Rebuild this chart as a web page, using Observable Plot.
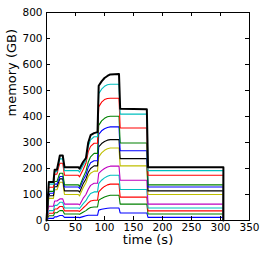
<!DOCTYPE html>
<html>
<head>
<meta charset="utf-8">
<script src="https://cdn.jsdelivr.net/npm/d3@7"></script>
<script src="https://cdn.jsdelivr.net/npm/@observablehq/plot@0.6"></script>
<style>
  html, body { margin: 0; padding: 0; background: #fff; }
  #chart svg { display: block; }
</style>
</head>
<body>
<div id="chart"></div>
<script>
const time = [0, 4, 12, 14, 18, 21, 23, 28, 31, 55, 57, 63, 68, 72, 76, 82, 88, 90, 95, 100, 105, 110, 125, 127, 173, 175, 305, 305];

const b1 = [0, 8, 8, 14, 14, 17, 19, 19, 12, 12, 11, 15, 18, 20, 20, 20, 20, 40, 43, 45, 47, 48, 48, 29, 29, 12, 12, 0];
const g1 = [0, 18, 18, 30, 30, 35, 38, 38, 25, 25, 24, 32, 38, 45, 50, 52, 52, 78, 85, 90, 94, 97, 97, 63, 63, 25, 25, 0];
const r1 = [0, 28, 28, 44, 44, 50, 54, 54, 37, 37, 35, 48, 58, 68, 75, 78, 78, 110, 122, 131, 137, 140, 140, 90, 90, 37, 37, 0];
const c1 = [0, 38, 38, 58, 58, 65, 70, 70, 48, 48, 46, 64, 76, 92, 104, 110, 110, 142, 155, 164, 170, 174, 174, 119, 119, 48, 48, 0];
const m1 = [0, 55, 55, 75, 75, 80, 83, 83, 63, 63, 60, 85, 100, 120, 135, 143, 143, 181, 192, 200, 206, 209, 209, 155, 155, 63, 63, 0];
const y1 = [0, 85, 85, 118, 118, 135, 147, 147, 100, 100, 95, 125, 145, 170, 182, 190, 190, 245, 260, 270, 276, 279, 279, 210, 210, 100, 100, 0];
const k1 = [0, 95, 95, 130, 130, 148, 160, 160, 114, 114, 109, 140, 160, 185, 200, 210, 210, 283, 296, 304, 309, 311, 311, 238, 238, 114, 114, 0];
const b2 = [0, 105, 105, 140, 140, 157, 169, 169, 129, 129, 123, 155, 175, 205, 222, 230, 230, 331, 345, 353, 358, 360, 360, 268, 268, 129, 129, 0];
const g2 = [0, 112, 112, 150, 150, 170, 182, 182, 137, 137, 131, 165, 190, 225, 245, 258, 258, 366, 383, 393, 399, 401, 401, 298, 298, 137, 137, 0];
const r2 = [0, 128, 128, 178, 178, 205, 220, 220, 174, 174, 168, 195, 220, 265, 285, 297, 297, 437, 455, 465, 469, 470, 470, 356, 356, 174, 174, 0];
const c2 = [0, 140, 140, 188, 188, 218, 237, 237, 192, 192, 186, 212, 232, 285, 310, 322, 322, 488, 505, 516, 522, 524, 524, 409, 409, 192, 192, 0];
const total = [0, 148, 148, 195, 195, 227, 250, 250, 205, 205, 199, 225, 240, 300, 328, 336, 340, 518, 535, 548, 556, 562, 563, 430, 428, 205, 205, 0];

const seriesNames = ["b1", "g1", "r1", "c1", "m1", "y1", "k1", "b2", "g2", "r2", "c2"];
const seriesValues = [b1, g1, r1, c1, m1, y1, k1, b2, g2, r2, c2];
const seriesColors = ["#0000ff", "#008000", "#ff0000", "#00bfbf", "#bf00bf", "#bfbf00", "#000000", "#0000ff", "#008000", "#ff0000", "#00bfbf"];

const xTicks = [0, 50, 100, 150, 200, 250, 300, 350];
const yTicks = [0, 100, 200, 300, 400, 500, 600, 700, 800];

const rows = [];
seriesNames.forEach((name, i) => {
  time.forEach((t, j) => rows.push({series: name, t, v: seriesValues[i][j]}));
});
const totalRows = time.map((t, j) => ({t, v: total[j]}));

const W = 266, H = 257;
const mL = 46, mR = 17, mT = 12, mB = 37;
const fw = W - mL - mR, fh = H - mT - mB;
const tickLen = 4;

const chart = Plot.plot({
  width: W,
  height: H,
  marginLeft: mL,
  marginRight: mR,
  marginTop: mT,
  marginBottom: mB,
  style: {fontFamily: "DejaVu Sans", fontSize: "10.5px", background: "#fff", color: "#000"},
  x: {domain: [0, 350], label: null},
  y: {domain: [0, 800], label: null},
  color: {domain: seriesNames, range: seriesColors},
  marks: [
    Plot.line(rows, {x: "t", y: "v", z: "series", stroke: "series", strokeWidth: 1.1}),
    Plot.line(totalRows, {x: "t", y: "v", stroke: "#000", strokeWidth: 2}),
    Plot.frame({stroke: "#000", strokeWidth: 1}),
    Plot.ruleX(xTicks.slice(1, -1), {x: d => d, insetTop: fh - tickLen, stroke: "#000"}),
    Plot.ruleX(xTicks.slice(1, -1), {x: d => d, insetBottom: fh - tickLen, stroke: "#000"}),
    Plot.ruleY(yTicks.slice(1, -1), {y: d => d, insetRight: fw - tickLen, stroke: "#000"}),
    Plot.ruleY(yTicks.slice(1, -1), {y: d => d, insetLeft: fw - tickLen, stroke: "#000"}),
    Plot.axisX({ticks: xTicks, tickSize: 0, tickPadding: 3, fontSize: 10.5, label: null}),
    Plot.axisY({ticks: yTicks, tickSize: 0, tickPadding: 4, fontSize: 10.5, label: null}),
    Plot.text(["time (s)"], {frameAnchor: "bottom", dy: 23, fontSize: 13, fill: "#000"}),
    Plot.text(["memory (GB)"], {frameAnchor: "left", dx: -35, rotate: -90, fontSize: 13, fill: "#000"})
  ]
});
document.getElementById("chart").appendChild(chart);
</script>
</body>
</html>
